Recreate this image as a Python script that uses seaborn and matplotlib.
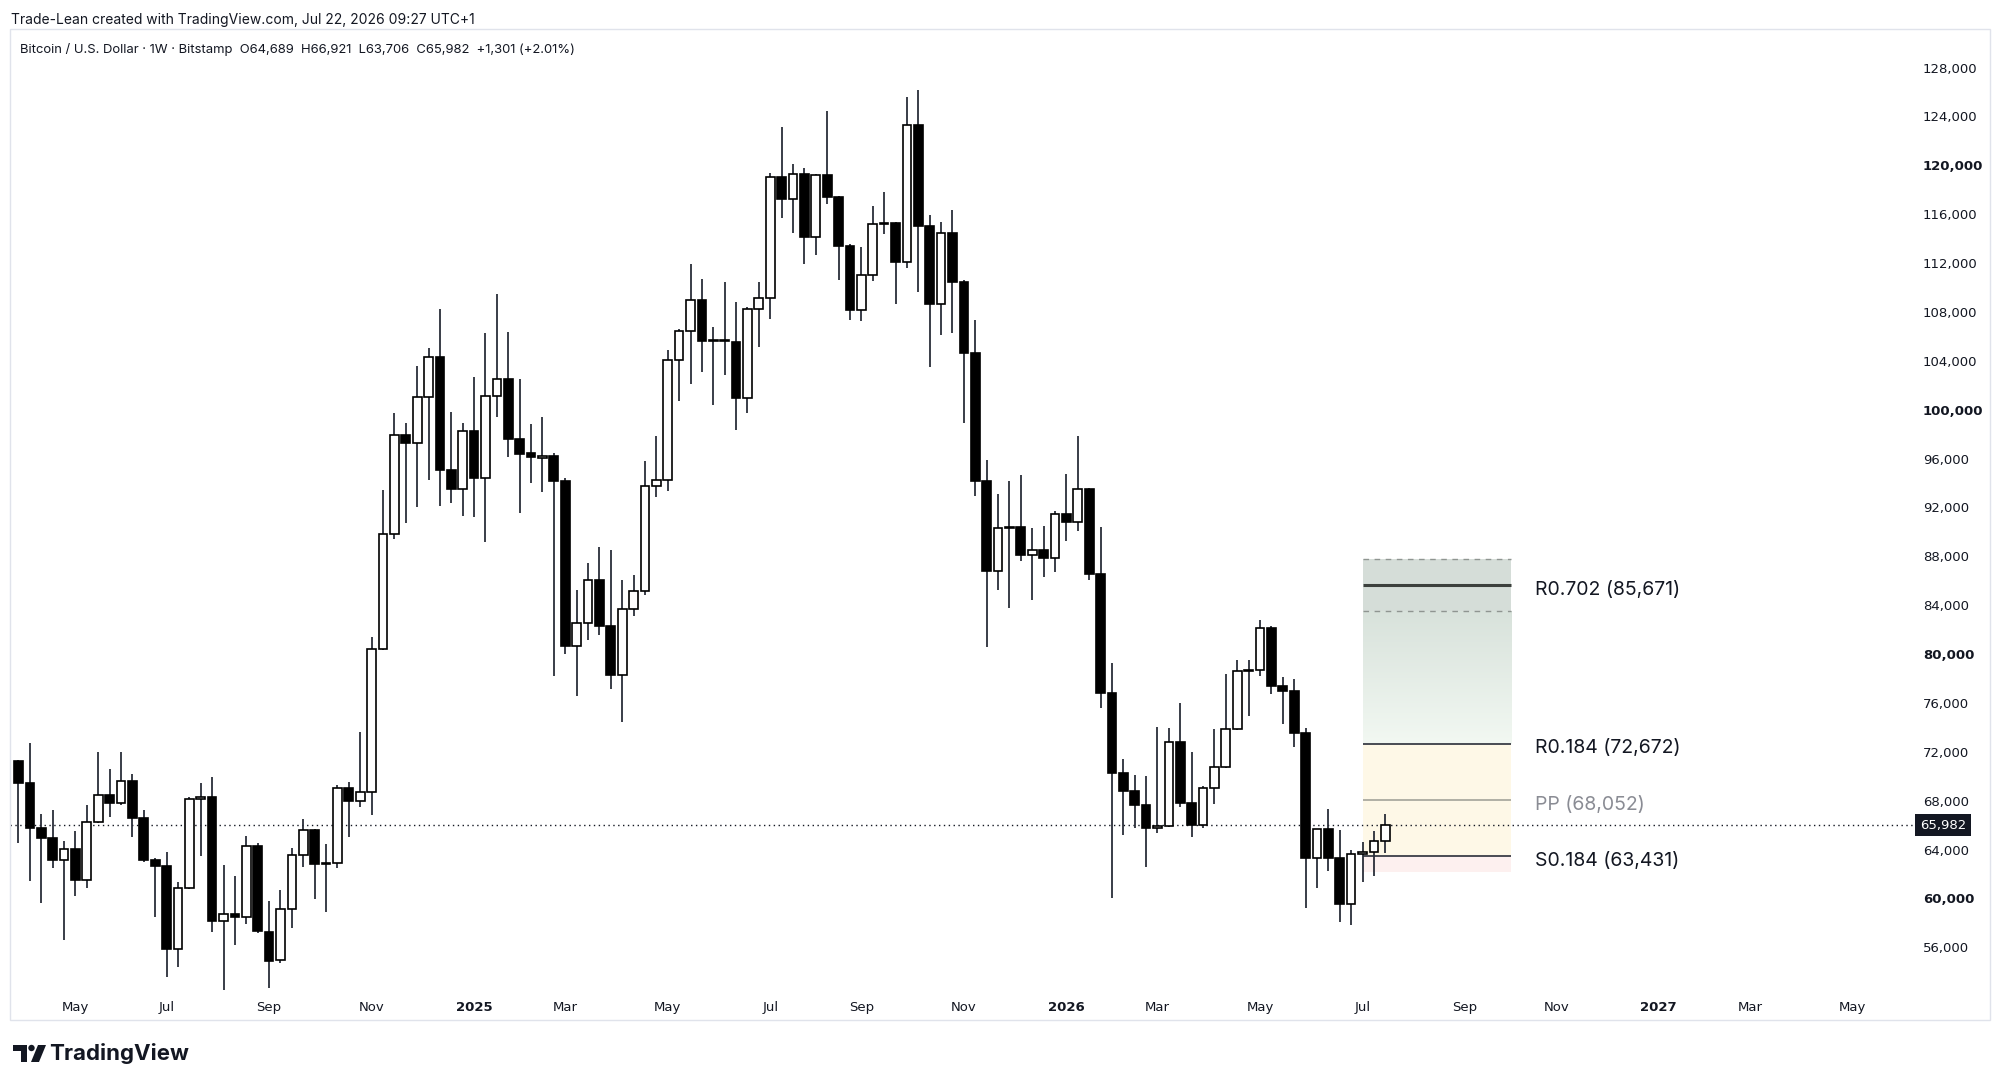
import numpy as np
import pandas as pd
import matplotlib
matplotlib.use('Agg')
import matplotlib.pyplot as plt
import matplotlib.dates as mdates
import seaborn as sns
from matplotlib.colors import LinearSegmentedColormap
from matplotlib.patches import Rectangle, Circle, Polygon
from matplotlib.transforms import IdentityTransform

# BTC/USD weekly candles (Bitstamp), first bar = week of 2024-04-01
start_week = '2024-04-01'

opens = [
    71270, 69420, 65790, 64970, 63140, 64020, 61480, 66280, 68460, 67780,
    69610, 66610, 63170, 62680, 55860, 60820, 68140, 68260, 58180, 58750,
    58450, 64260, 57280, 54960, 59130, 63550, 65600, 62820, 62870, 69010,
    67970, 68740, 80390, 89800, 97930, 97250, 101070, 104290, 95060, 93510,
    98260, 94440, 101150, 102490, 97600, 96480, 96020, 96210, 94190, 80690,
    82510, 86060, 82330, 78310, 83690, 85150, 93730, 94210, 104040, 106410,
    108970, 105610, 105680, 105500, 100970, 108280, 109150, 119020, 117230, 119310,
    114120, 119200, 117380, 113390, 108170, 111020, 115220, 115300, 112110, 123330,
    115000, 108610, 114450, 110470, 104620, 94170, 86790, 90340, 90400, 88140,
    88530, 87840, 91440, 90810, 93540, 86530, 76840, 70240, 68820, 67640,
    65790, 65950, 72830, 67840, 66010, 69010, 70730, 73840, 78640, 78700,
    82160, 77410, 76980, 73570, 63330, 65680, 63280, 59510, 63610, 63770,
    64689]

highs = [
    71300, 72750, 66880, 67240, 64730, 65520, 67640, 71960, 70590, 71960,
    70150, 67240, 63310, 63770, 61370, 68330, 69420, 69960, 62730, 61830,
    65130, 64510, 59790, 60660, 64150, 66500, 65650, 64450, 69280, 69500,
    73590, 81420, 93430, 99700, 98880, 103580, 105020, 108240, 99840, 98880,
    102700, 106250, 109500, 106330, 102490, 98830, 99430, 96430, 94380, 85240,
    87420, 88730, 88510, 86060, 86430, 95820, 97860, 104880, 106600, 111930,
    110690, 106780, 110470, 108830, 108420, 110470, 119390, 123150, 120150, 119750,
    119300, 124430, 117490, 113540, 113280, 116680, 117850, 115400, 125600, 126180,
    115910, 115370, 116320, 110620, 107360, 95850, 93080, 94170, 94650, 90300,
    90500, 91690, 94730, 97860, 93600, 90410, 79240, 71380, 70100, 70050,
    74060, 73920, 76020, 72010, 69200, 73840, 78370, 79510, 79510, 82790,
    82320, 78090, 77930, 73920, 65700, 67290, 65600, 63960, 64640, 65540,
    66921]

lows = [
    64560, 61400, 59650, 62460, 56590, 60220, 60820, 66140, 66690, 67640,
    65000, 63000, 58500, 53590, 54360, 60770, 63470, 57220, 49050, 56190,
    57900, 57200, 52640, 54680, 57550, 62600, 59920, 58910, 62520, 65050,
    67510, 66820, 80330, 89390, 90750, 92060, 94250, 92120, 92390, 91300,
    91240, 89140, 99430, 96160, 91520, 94030, 93290, 78200, 80000, 76590,
    81150, 81570, 77110, 74440, 83140, 84800, 92820, 93370, 100750, 102140,
    103120, 100420, 102800, 98300, 99760, 105130, 107440, 115730, 114450, 111890,
    112630, 116830, 110620, 107330, 107250, 110540, 114380, 108640, 111570, 109630,
    103490, 106080, 106270, 98920, 92930, 80580, 85260, 83800, 87630, 84400,
    86330, 86740, 89240, 90030, 86090, 75560, 60010, 65190, 65730, 62600,
    65330, 65870, 67450, 65000, 65730, 67730, 70650, 73780, 74930, 78200,
    76700, 74250, 72420, 59190, 60820, 62240, 58100, 57820, 61370, 61830,
    63706]

closes = [
    69420, 65790, 64970, 63140, 64020, 61480, 66280, 68460, 67780, 69610,
    66610, 63170, 62680, 55860, 60820, 68140, 68260, 58180, 58750, 58450,
    64260, 57330, 54900, 59130, 63550, 65600, 62820, 62870, 69010, 67970,
    68740, 80390, 89800, 97930, 97250, 101070, 104290, 95060, 93510, 98260,
    94440, 101150, 102490, 97600, 96370, 96100, 96210, 94190, 80690, 82510,
    86060, 82330, 78310, 83690, 85150, 93730, 94210, 104040, 106410, 108970,
    105610, 105680, 105600, 100970, 108280, 109150, 119020, 117230, 119310, 114120,
    119200, 117380, 113390, 108170, 111020, 115220, 115300, 112110, 123330, 115000,
    108610, 114450, 110470, 104620, 94170, 86790, 90340, 90400, 88140, 88530,
    87840, 91440, 90810, 93540, 86530, 76840, 70240, 68820, 67640, 65790,
    65950, 72830, 67840, 66010, 69010, 70730, 73840, 78640, 78700, 82160,
    77410, 76980, 73570, 63330, 65680, 63280, 59510, 63610, 63770, 64681,
    65982]

# quarterly pivot points drawn at the right
pivot_start = '2026-07-06'
pivot_end = '2026-10-05'
pivot_names = ['R0.702', 'R0.184', 'PP', 'S0.184']
pivot_levels = [85671, 72672, 68052, 63431]
zone_top = 87778
zone_bottom = 83548
support_zone_bottom = 62185

last_price = 65982
y_ticks = list(range(56000, 128001, 4000))

header = "Trade-Lean created with TradingView.com, Jul 22, 2026 09:27 UTC+1"
legend_text = ("Bitcoin / U.S. Dollar \u00b7 1W \u00b7 Bitstamp  O64,689  H66,921  "
               "L63,706  C65,982  +1,301 (+2.01%)")

sns.set_theme(style='white')
plt.rcParams['font.family'] = ['DejaVu Sans']

W, H = 2000, 1086
fig = plt.figure(figsize=(W / 100, H / 100), dpi=100)
fig.patch.set_facecolor('white')
ax = fig.add_axes([10 / W, (H - 990) / H, 1903 / W, 961 / H])
ax.set_facecolor('white')

df = pd.DataFrame({
    'date': pd.date_range(start_week, periods=len(opens), freq='W-MON'),
    'open': opens, 'high': highs, 'low': lows, 'close': closes,
})
x = mdates.date2num(df['date'])
up = (df['close'] >= df['open']).values

# wicks and bodies
ax.vlines(x, df['low'], df['high'], color='#2a2e39', linewidth=1.3, zorder=2)
body_low = np.minimum(df['open'], df['close'])
body_h = np.maximum(np.abs(df['close'] - df['open']), 60)
ax.bar(x, body_h, bottom=body_low, width=5.35,
       color=np.where(up, 'white', 'black'), edgecolor='black',
       linewidth=1.2, zorder=3)

# pivot zone shading
p0 = mdates.date2num(pd.Timestamp(pivot_start))
p1 = mdates.date2num(pd.Timestamp(pivot_end))
ax.fill_between([p0, p1], zone_bottom, zone_top, color='#d5ddd8', lw=0, zorder=0)
grad = np.linspace(0, 1, 128).reshape(-1, 1)
gcmap = LinearSegmentedColormap.from_list('fade', ['#f2f8f2', '#d8e2db'])
ax.imshow(grad, extent=[p0, p1, pivot_levels[1], zone_bottom], origin='lower',
          aspect='auto', cmap=gcmap, zorder=0, interpolation='bilinear')
ax.fill_between([p0, p1], pivot_levels[3], pivot_levels[1], color='#fef8e7', lw=0, zorder=0)
ax.fill_between([p0, p1], support_zone_bottom, pivot_levels[3], color='#fdf0ef', lw=0, zorder=0)

ax.hlines([zone_top, zone_bottom], p0, p1, colors='#8f9591', linestyles=(0, (4, 4)),
          linewidth=1, zorder=1)
line_colors = ['#3c403d', '#2a2e39', '#a3a399', '#2a2e39']
line_widths = [2.2, 1.2, 1.2, 1.2]
text_colors = ['#131722', '#131722', '#8a8c94', '#131722']
for name, lvl, lc, lw, tc in zip(pivot_names, pivot_levels, line_colors, line_widths, text_colors):
    ax.hlines(lvl, p0, p1, colors=lc, linewidth=lw, zorder=1)
    ax.annotate(f'{name} ({lvl:,})', xy=(p1 + 15, lvl), xytext=(0, -3.5),
                textcoords='offset points', ha='left', va='center',
                fontsize=14, color=tc, family=['Inter', 'DejaVu Sans'])

# last price line and tag
ax.axhline(last_price, color='#131722', linestyle=(0, (1, 2.5)), linewidth=1, zorder=1)
ax.text(1.0035, last_price, f'{last_price:,}', transform=ax.get_yaxis_transform(),
        ha='left', va='center', color='white', fontsize=9.5,
        bbox=dict(boxstyle='square,pad=0.35', fc='#131722', ec='none'), zorder=5,
        clip_on=False)

# axes limits
ax.set_xlim(x[0] - 0.746 * 7, x[0] + 166.33 * 7)
ax.set_ylim(52502, 131159)

# y axis on the right
ax.yaxis.tick_right()
ax.set_yticks(y_ticks)
ax.set_yticklabels([f'{v:,}' for v in y_ticks])
ax.tick_params(axis='y', length=0, pad=7.2, labelsize=9.5, labelcolor='#131722')
for lab, v in zip(ax.get_yticklabels(), y_ticks):
    if v % 20000 == 0:
        lab.set_fontweight('bold')

# x ticks at the first weekly bar of every odd month
all_weeks = pd.date_range(start_week, periods=175, freq='W-MON')
first_bars = pd.Series(all_weeks).groupby([all_weeks.year, all_weeks.month]).first()
first_bars = first_bars[first_bars.dt.month % 2 == 1]
first_bars = first_bars[(first_bars >= pd.Timestamp('2024-05-01')) &
                        (first_bars <= pd.Timestamp('2027-05-31'))]
xt = mdates.date2num(first_bars)
xl = [str(d.year) if d.month == 1 else d.strftime('%b') for d in first_bars]
ax.set_xticks(xt)
ax.set_xticklabels(xl)
ax.tick_params(axis='x', length=0, pad=8, labelsize=9.5, labelcolor='#131722')
for lab, d in zip(ax.get_xticklabels(), first_bars):
    if d.month == 1:
        lab.set_fontweight('bold')

sns.despine(ax=ax, left=True, right=True, top=True, bottom=True)
ax.grid(False)

# chart frame and header texts
fig.add_artist(Rectangle((10 / W, (H - 1020) / H), 1980 / W, 991 / H,
                         transform=fig.transFigure, fill=False, ec='#e0e3eb', lw=1))
fig.text(11 / W, 1 - 20 / H, header, ha='left', va='center', fontsize=10,
         color='#131722', family=['Inter', 'DejaVu Sans'])
fig.text(20 / W, 1 - 50 / H, legend_text, ha='left', va='center', fontsize=9.4,
         color='#131722', family=['Inter', 'DejaVu Sans'])

# TradingView logo
ident = IdentityTransform()
def px(xp, yp):
    return (xp, H - yp)
logo_t = Polygon([px(13, 1045), px(27, 1045), px(27, 1062), px(21, 1062),
                  px(21, 1051), px(13, 1051)], closed=True, fc='#131722', ec='none',
                 transform=ident)
logo_dot = Circle(px(31.5, 1048), 3.2, fc='#131722', ec='none', transform=ident)
logo_slash = Polygon([px(38, 1045), px(46, 1045), px(39, 1062), px(31, 1062)],
                     closed=True, fc='#131722', ec='none', transform=ident)
for p in (logo_t, logo_dot, logo_slash):
    fig.add_artist(p)
fig.text(49 / W, 1 - 1053 / H, 'TradingView', ha='left', va='center', fontsize=16,
         fontweight='bold', color='#131722', family=['Inter', 'DejaVu Sans'])

fig.savefig('out.png', dpi=100, facecolor='white')
